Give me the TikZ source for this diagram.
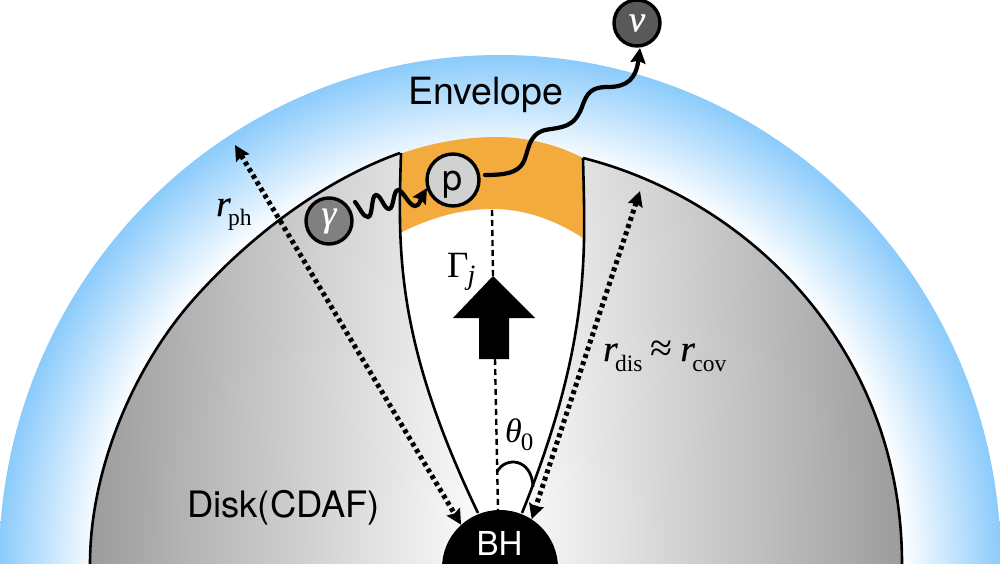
\documentclass[tikz,border=0pt]{standalone}
\usepackage{fontspec}
\setmainfont{Liberation Serif}
\newfontfamily\helv{TeX Gyre Heros}
\newfontfamily\heavyit[FakeBold=0.6]{Liberation Serif Italic}
\usetikzlibrary{arrows.meta}
\definecolor{bandorange}{HTML}{F2AB3C}
\pgfdeclareradialshading{disktone}{\pgfpoint{0bp}{0bp}}{rgb(0bp)=(1,1,1); rgb(25bp)=(.58,.58,.58); rgb(50bp)=(.58,.58,.58)}
\pgfdeclareradialshading{envelopetone}{\pgfpoint{0bp}{0bp}}{rgb(0bp)=(1,1,1); rgb(20bp)=(1,1,1); rgb(25bp)=(.545,.796,.984); rgb(50bp)=(.545,.796,.984)}
\newcommand{\sz}[1]{\fontsize{#1}{#1}\selectfont}
\newcommand{\dlabel}[3]{{\sz{37}\heavyit #1}\raisebox{#3}{\sz{23.5}\kern-2.5pt #2}}
\tikzset{
  particle/.style={circle,draw=black,line width=3.4pt,inner sep=0pt,minimum size=#1},
  edgeline/.style={draw=black,line width=2.6pt},
  dotarrow/.style={line width=5pt,dash pattern=on 4pt off 3.6pt,
    {Stealth[length=15pt,width=15pt,inset=2pt]}-{Stealth[length=15pt,width=15pt,inset=2pt]}},
  wiggle/.style={line width=4.2pt,line cap=round,-{Stealth[length=15pt,width=15pt,inset=2pt]}},
  axis/.style={line width=2.4pt,dash pattern=on 6pt off 4pt},
  sanslabel/.style={font=\helv\sz{36.4},inner sep=0pt,anchor=base west},
  mathlabel/.style={inner sep=0pt,anchor=base west}
}
\begin{document}
\begin{tikzpicture}[x=1pt,y=-1pt]
\clip (0,0) rectangle (1000,564);
% envelope
\shade[shading=envelopetone] (500,564) ellipse [x radius=501,y radius=509];
% accretion disk
\begin{scope}
  \clip (90,564) .. controls (90,470) and (133,368) .. (193,300)
    .. controls (255,230) and (330,178) .. (400,153)
    -- (583,158) .. controls (750,200) and (902,350) .. (902,564) -- cycle;
  \shade[shading=disktone] (496,564) ellipse [x radius=440,y radius=2000];
\end{scope}
\draw[edgeline] (90,564) .. controls (90,470) and (133,368) .. (193,300)
    .. controls (255,230) and (330,178) .. (400,153);
\draw[edgeline] (583,158) .. controls (750,200) and (902,350) .. (902,564);
% jet funnel
\fill[white] (401,153) .. controls (398,250) and (395,340) .. (478,513)
  -- (522,513) .. controls (592,340) and (585,250) .. (583,158) -- cycle;
% shocked shell
\fill[bandorange] (400,154) .. controls (430,143) and (465,137) .. (495,137)
  .. controls (530,137) and (560,146) .. (583,158) -- (583,238)
  .. controls (555,220) and (525,209) .. (493,209)
  .. controls (460,209) and (430,218) .. (400,233) -- cycle;
\draw[edgeline] (401,153) .. controls (398,250) and (395,340) .. (478,513);
\draw[edgeline] (583,158) .. controls (585,250) and (592,340) .. (522,513);
% black hole
\node[circle,fill=black,inner sep=0pt,minimum size=116pt] (bh) at (500,568) {};
\node[font=\helv\sz{33},text=white,inner sep=0pt,anchor=base] (bhtext) at (499.5,555) {BH};
% jet axis and bulk-motion arrow
\coordinate (axistop) at (492,210);
\coordinate (arrowtip) at (493,276);
\coordinate (arrowfoot) at (495,359);
\coordinate (axisfoot) at (498,510);
\draw[axis] (axistop) -- (arrowtip);
\draw[axis] (arrowfoot) -- (axisfoot);
\fill[black] (arrowtip) -- (535,318) -- (509,318) -- (509,359) -- (479,359) -- (479,318) -- (453,318) -- cycle;
% opening angle
\coordinate (anglestart) at (497,472);
\coordinate (angleend) at (533,487);
\draw[line width=2.8pt] (anglestart) .. controls (505,456) and (532,458) .. (angleend);
% radii
\coordinate (phtip) at (235,145);
\coordinate (distip) at (640,191);
\draw[dotarrow] (phtip) -- (bh.132);
\draw[dotarrow] (distip) -- (bh.57);
% particles
\node[particle=52pt,fill=black!18] (p) at (453,180) {};
\node[font=\helv\sz{36},inner sep=0pt,anchor=base] (ptext) at (453,190) {p};
\node[particle=46pt,fill=black!50,text=white,font=\sz{37}\heavyit] (g) at (329,221) {γ};
\node[particle=46pt,fill=black!65,text=white,font=\sz{37}\heavyit] (nu) at (637,23) {ν};
% photon and neutrino paths
\coordinate (gout) at (355,202);
\coordinate (pin) at (427,188);
\draw[wiggle] (gout) .. controls (360,208) and (363,217) .. (368,217)
  .. controls (373,217) and (371,195) .. (376,195)
  .. controls (381,195) and (384,209) .. (389,209)
  .. controls (394,209) and (393,190) .. (398,190)
  .. controls (403,190) and (409,206) .. (415,206)
  .. controls (420,206) and (421,198) .. (pin);
\coordinate (pout) at (485,175);
\coordinate (nuin) at (640,48);
\draw[wiggle] (pout) .. controls (505,175) and (517,173) .. (523,163)
  .. controls (529,152) and (527,135) .. (545,130)
  .. controls (562,127) and (574,128) .. (582,107)
  .. controls (587,92) and (592,87) .. (608,87)
  .. controls (628,87) and (636,78) .. (nuin);
% labels
\node[sanslabel,font=\helv\sz{37.5}] (envelope) at (408,105) {Envelope};
\node[sanslabel] (disklabel) at (187,517) {Disk(CDAF)};
\node[mathlabel] (rph) at (216,216) {\dlabel{r}{ph}{-9pt}};
\node[mathlabel] (gamj) at (447,277) {{\sz{37}Γ}\raisebox{-7pt}{\sz{28}\itshape\kern-1pt j}};
\node[mathlabel] (th) at (505,442) {{\sz{34}\itshape θ}\raisebox{-8pt}{\sz{25}\kern-1pt 0}};
\node[mathlabel] (rdis) at (603,361) {\dlabel{r}{dis}{-10pt}\hspace{8pt}{\sz{40}≈}\hspace{8pt}\dlabel{r}{cov}{-10pt}};
\end{tikzpicture}
\end{document}
